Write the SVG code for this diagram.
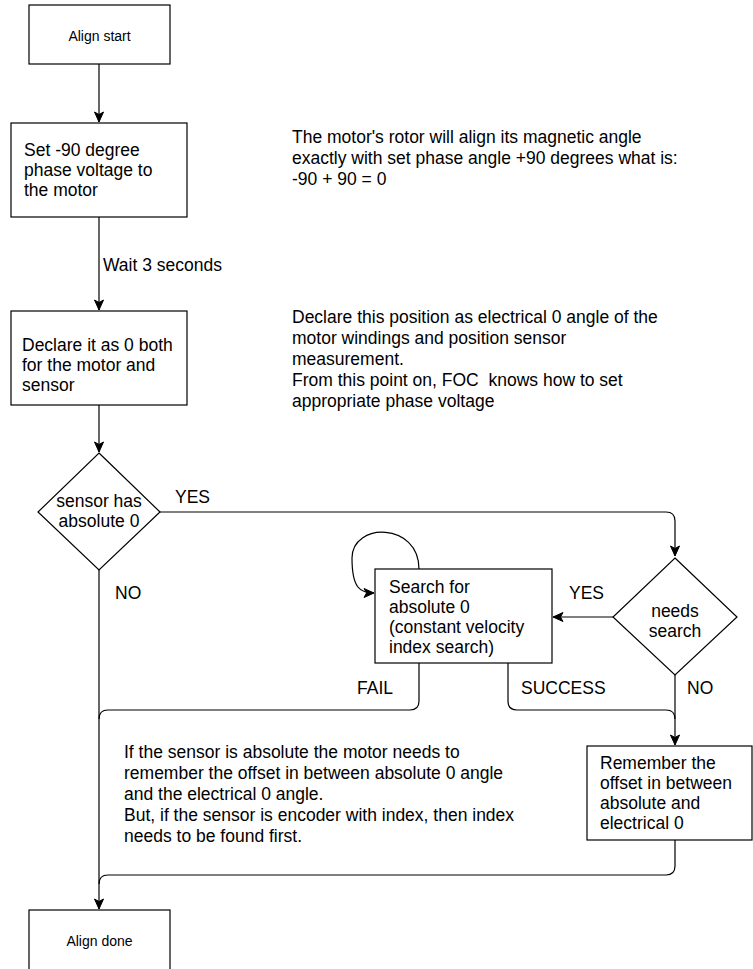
<svg xmlns="http://www.w3.org/2000/svg" width="753" height="969" viewBox="0 0 753 969">
<style>
.n{fill:#fff;stroke:#000;stroke-width:1.2}
.c{fill:none;stroke:#000;stroke-width:1.2}
text{font-family:"Liberation Sans",Arial,sans-serif;font-size:17.5px;fill:#000}
.s{font-size:14px}
.m{text-anchor:middle}
</style>
<defs>
<marker id="a" markerUnits="userSpaceOnUse" markerWidth="12" markerHeight="12" viewBox="0 0 12 12" refX="11" refY="6" orient="auto">
<path d="M1,1.5 L11,6 L1,10.5 L3.5,6 Z" fill="#000" stroke="#000" stroke-width="1"/>
</marker>
</defs>
<rect width="753" height="969" fill="#fff"/>
<g id="connectors">
<path class="c" d="M99,64 V122" marker-end="url(#a)"/>
<path class="c" d="M99,217 V310" marker-end="url(#a)"/>
<path class="c" d="M99,405 V452" marker-end="url(#a)"/>
<path class="c" d="M160,512 H666 Q675,512 675,521 V556" marker-end="url(#a)"/>
<path class="c" d="M613,617 H553" marker-end="url(#a)"/>
<path class="c" d="M419,569 C419,522 352,522 352,558 C352,588 360,593 374,593" marker-end="url(#a)"/>
<path class="c" d="M419,663 V701 Q419,710 410,710 H108 Q99,710 99,719"/>
<path class="c" d="M508,663 V701 Q508,710 517,710 H666 Q675,710 675,719"/>
<path class="c" d="M675,675 V745" marker-end="url(#a)"/>
<path class="c" d="M675,840 V866 Q675,875 666,875 H108 Q99,875 99,884"/>
<path class="c" d="M99,570 V909" marker-end="url(#a)"/>
<text x="103" y="271">Wait 3 seconds</text>
<text x="175" y="503">YES</text>
<text x="115" y="599">NO</text>
<text x="569" y="599">YES</text>
<text x="357" y="694">FAIL</text>
<text x="521" y="694">SUCCESS</text>
<text x="687" y="694">NO</text>
</g>
<g id="align-start"><rect class="n" x="29" y="5" width="141" height="59"/><text class="s m" x="99.5" y="41">Align start</text></g>
<g id="set-phase"><rect class="n" x="11" y="123" width="176" height="94"/><text x="24" y="156">Set -90 degree</text><text x="24" y="176">phase voltage to</text><text x="24" y="196">the motor</text></g>
<g id="declare-zero"><rect class="n" x="11" y="311" width="176" height="94"/><text x="22" y="351">Declare it as 0 both</text><text x="22" y="371">for the motor and</text><text x="22" y="391">sensor</text></g>
<g id="sensor-absolute"><polygon class="n" points="99,453 160,512 99,570 38,512"/><text class="m" x="99" y="507">sensor has</text><text class="m" x="99" y="527">absolute 0</text></g>
<g id="needs-search"><polygon class="n" points="675,558 737,617 675,675 613,617"/><text class="m" x="675" y="617">needs</text><text class="m" x="675" y="637">search</text></g>
<g id="search-box"><rect class="n" x="375" y="569" width="177" height="94"/><text x="389" y="593">Search for</text><text x="389" y="613">absolute 0</text><text x="389" y="633">(constant velocity</text><text x="389" y="653">index search)</text></g>
<g id="remember-offset"><rect class="n" x="587" y="746" width="165" height="94"/><text x="600" y="769">Remember the</text><text x="600" y="789">offset in between</text><text x="600" y="809">absolute and</text><text x="600" y="829">electrical 0</text></g>
<g id="align-done"><rect class="n" x="29" y="910" width="141" height="62"/><text class="s m" x="99.5" y="946">Align done</text></g>
<g id="note-rotor"><text x="292" y="143">The motor's rotor will align its magnetic angle</text><text x="292" y="164">exactly with set phase angle +90 degrees what is:</text><text x="292" y="185">-90 + 90 = 0</text></g>
<g id="note-declare"><text x="292" y="323">Declare this position as electrical 0 angle of the</text><text x="292" y="344">motor windings and position sensor</text><text x="292" y="365">measurement.</text><text x="292" y="386" xml:space="preserve">From this point on, FOC  knows how to set</text><text x="292" y="407">appropriate phase voltage</text></g>
<g id="note-offset"><text x="124" y="758">If the sensor is absolute the motor needs to</text><text x="124" y="779">remember the offset in between absolute 0 angle</text><text x="124" y="800">and the electrical 0 angle.</text><text x="124" y="821">But, if the sensor is encoder with index, then index</text><text x="124" y="842">needs to be found first.</text></g>
</svg>
